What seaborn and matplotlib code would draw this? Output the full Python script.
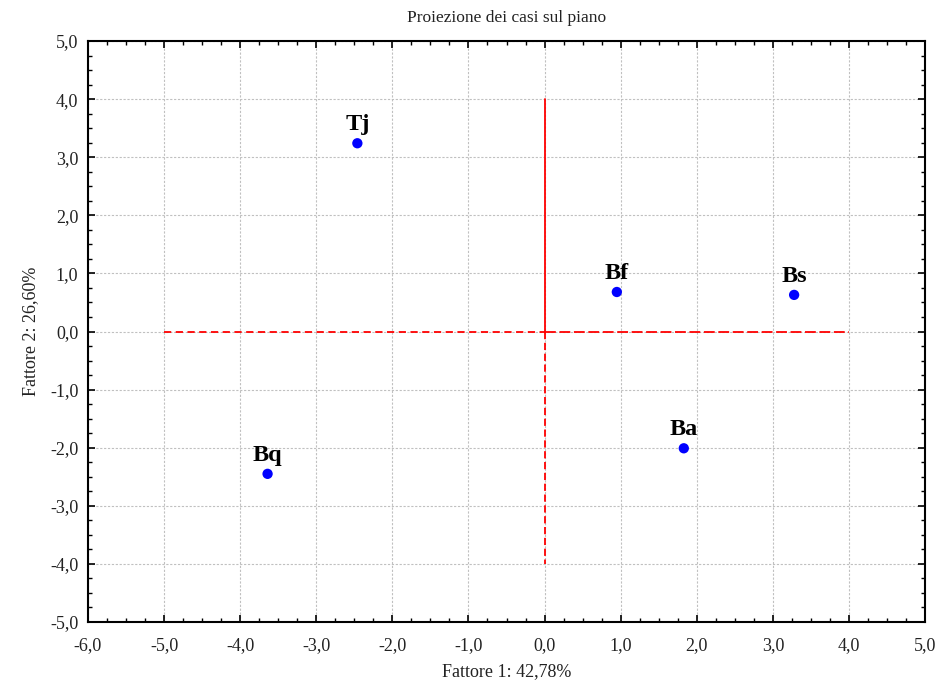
import matplotlib
matplotlib.use("Agg")
import matplotlib.pyplot as plt
from matplotlib.ticker import MultipleLocator, FuncFormatter
import seaborn as sns
import pandas as pd

# Case projections on the first factorial plane
cases = ["Tj", "Bf", "Bs", "Ba", "Bq"]
factor1 = [-2.46, 0.95, 3.28, 1.83, -3.64]
factor2 = [3.24, 0.68, 0.63, -2.01, -2.45]

df = pd.DataFrame({"case": cases, "f1": factor1, "f2": factor2})

sns.set_theme(style="white")
plt.rcParams["font.family"] = ["Liberation Serif", "DejaVu Serif"]

fig = plt.figure(figsize=(9.38, 6.88), dpi=100)
ax = fig.add_axes([88 / 938, 1 - 622 / 688, (925 - 88) / 938, (622 - 41) / 688])

# reference axes through the origin
ax.plot([0, 0], [0, 4], color="#ff0000", lw=1.3, zorder=2)
ax.plot([0, 0], [0, -4], color="#ff0000", lw=1.3, dashes=(4, 2), zorder=2)
ax.plot([-5, 0], [0, 0], color="#ff0000", lw=1.3, dashes=(4, 2.5), zorder=2)
ax.plot([0, 4], [0, 0], color="#ff0000", lw=1.3, dashes=(6, 2), zorder=2)

sns.scatterplot(data=df, x="f1", y="f2", ax=ax, color="#0000ff", s=55,
                edgecolor="none", zorder=3, legend=False)

for _, r in df.iterrows():
    ax.annotate(r["case"], (r["f1"], r["f2"]), xytext=(0, 6),
                textcoords="offset points", ha="center", va="bottom",
                fontsize=17.5, fontweight="bold", color="black", zorder=4)

ax.set_xlim(-6, 5)
ax.set_ylim(-5, 5)
ax.xaxis.set_major_locator(MultipleLocator(1))
ax.yaxis.set_major_locator(MultipleLocator(1))
ax.xaxis.set_minor_locator(MultipleLocator(0.25))
ax.yaxis.set_minor_locator(MultipleLocator(0.25))
fmt = FuncFormatter(lambda v, p: f"{v:.1f}".replace(".", ","))
ax.xaxis.set_major_formatter(fmt)
ax.yaxis.set_major_formatter(fmt)

ax.grid(True, which="major", color="#c0c0c0", linestyle=(0, (2, 1.5)), lw=0.8, zorder=0)
ax.tick_params(which="both", direction="in", top=True, right=True, bottom=True, left=True,
               color="black")
ax.tick_params(which="major", length=5, width=1.2, labelsize=13, labelcolor="#222222")
ax.tick_params(axis="x", which="major", pad=11)
ax.tick_params(axis="y", which="major", pad=7)
ax.tick_params(which="minor", length=3, width=1)
for sp in ax.spines.values():
    sp.set_color("black")
    sp.set_linewidth(1.5)

ax.set_xlabel("Fattore 1: 42,78%", fontsize=13, labelpad=6, color="#222222")
ax.set_ylabel("Fattore 2: 26,60%", fontsize=13, labelpad=8, color="#222222")
ax.set_title("Proiezione dei casi sul piano", fontsize=12.5, pad=14, color="#222222")

fig.savefig("out.png", dpi=100)
